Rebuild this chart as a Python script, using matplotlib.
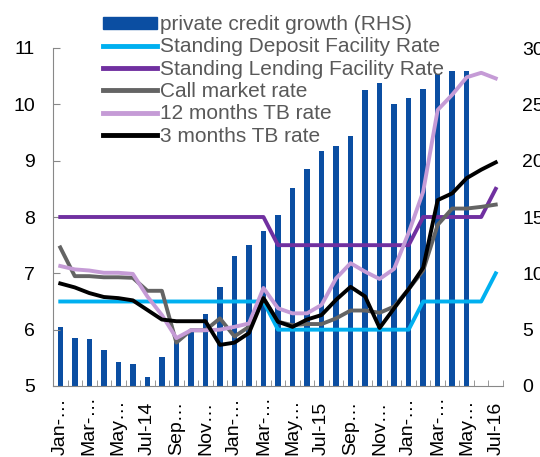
import matplotlib.pyplot as plt
import numpy as np
from matplotlib.patches import Patch
from matplotlib.lines import Line2D

plt.rcParams['font.family'] = ['Liberation Sans', 'DejaVu Sans']

# monthly data, Jan-14 .. Jul-16
months = ['Jan-14', 'Feb-14', 'Mar-14', 'Apr-14', 'May-14', 'Jun-14', 'Jul-14', 'Aug-14',
          'Sep-14', 'Oct-14', 'Nov-14', 'Dec-14', 'Jan-15', 'Feb-15', 'Mar-15', 'Apr-15',
          'May-15', 'Jun-15', 'Jul-15', 'Aug-15', 'Sep-15', 'Oct-15', 'Nov-15', 'Dec-15',
          'Jan-16', 'Feb-16', 'Mar-16', 'Apr-16', 'May-16', 'Jun-16', 'Jul-16']
xlabels = ['Jan-…', '', 'Mar-…', '', 'May…', '', 'Jul-14', '', 'Sep…', '', 'Nov…', '',
           'Jan-…', '', 'Mar-…', '', 'May…', '', 'Jul-15', '', 'Sep…', '', 'Nov…', '',
           'Jan-…', '', 'Mar-…', '', 'May…', '', 'Jul-16']

# private credit growth (RHS), no data for Jun/Jul-16
credit = [5.2, 4.3, 4.2, 3.2, 2.1, 1.95, 0.8, 2.55, 4.0, 4.8, 6.4, 8.8, 11.5, 12.5, 13.8,
          15.2, 17.6, 19.3, 20.9, 21.3, 22.2, 26.3, 26.9, 25.0, 25.6, 26.4, 27.7, 28.0, 28.0]
sdf = [6.5] * 15 + [6.0] * 10 + [6.5] * 5 + [7.0]
slf = [8.0] * 15 + [7.5] * 10 + [8.0] * 5 + [8.5]
call = [7.46, 6.95, 6.95, 6.93, 6.93, 6.92, 6.69, 6.69, 5.77, 5.99, 5.99, 6.2, 5.88, 6.05,
        6.56, 6.14, 6.08, 6.1, 6.1, 6.2, 6.34, 6.34, 6.3, 6.41, 6.72, 7.05, 7.86, 8.15,
        8.15, 8.18, 8.22]
tb12 = [7.13, 7.07, 7.05, 7.01, 7.01, 6.99, 6.59, 6.26, 5.85, 5.99, 5.99, 6.0, 6.05, 6.11,
        6.74, 6.38, 6.29, 6.29, 6.44, 6.91, 7.18, 7.03, 6.9, 7.08, 7.72, 8.45, 9.9, 10.17,
        10.48, 10.56, 10.46]
tb3 = [6.82, 6.75, 6.65, 6.58, 6.56, 6.52, 6.35, 6.18, 6.15, 6.15, 6.15, 5.73, 5.77, 5.94,
       6.56, 6.14, 6.05, 6.18, 6.26, 6.53, 6.76, 6.59, 6.03, 6.38, 6.72, 7.1, 8.3, 8.42,
       8.69, 8.84, 8.97]

c_bar = '#0B4EA2'
c_sdf = '#00B0F0'
c_slf = '#7030A0'
c_call = '#646464'
c_12 = '#C59BD6'
c_3 = '#000000'

x = np.arange(len(months))
fig = plt.figure(figsize=(5.4, 4.57), dpi=100)
ax = fig.add_axes([53/540, 71/457, 450/540, 338/457])
ax2 = ax.twinx()

ax2.bar(x[:len(credit)], credit, width=0.38, color=c_bar)
ax.set_zorder(ax2.get_zorder() + 1)
ax.patch.set_visible(False)

lw = 2.8
ax.plot(x, sdf, color=c_sdf, lw=lw)
ax.plot(x, slf, color=c_slf, lw=lw)
ax.plot(x, call, color=c_call, lw=lw)
ax.plot(x, tb12, color=c_12, lw=lw)
ax.plot(x, tb3, color=c_3, lw=lw)

ax.set_xlim(-0.5, len(months) - 0.5)
ax.set_ylim(5, 11)
ax.set_yticks(range(5, 12))
ax2.set_ylim(0, 30)
ax2.set_yticks(range(0, 31, 5))

ax.set_xticks(x)
ax.set_xticklabels(xlabels, rotation=90, va='bottom', ha='center')
ax.set_xticks(np.arange(-0.5, len(months)), minor=True)
ax.tick_params(axis='x', which='major', length=0, pad=50, labelsize=14)
ax.tick_params(axis='x', which='minor', direction='in', length=4, color='#888888')
ax.tick_params(axis='y', direction='in', length=5, color='#888888', pad=13, labelsize=14)
ax2.tick_params(axis='y', length=0, pad=14, labelsize=14)

for a in (ax, ax2):
    a.spines['top'].set_visible(False)
    a.spines['right'].set_visible(False)
    a.spines['left'].set_color('#888888')
    a.spines['bottom'].set_color('#888888')
ax2.spines['left'].set_visible(False)
ax2.spines['bottom'].set_visible(False)

handles = [Patch(color=c_bar),
           Line2D([], [], color=c_sdf, lw=3.5),
           Line2D([], [], color=c_slf, lw=3.5),
           Line2D([], [], color=c_call, lw=3.5),
           Line2D([], [], color=c_12, lw=3.5),
           Line2D([], [], color=c_3, lw=3.5)]
labels = ['private credit growth (RHS)', 'Standing Deposit Facility Rate',
          'Standing Lending Facility Rate', 'Call market rate', '12 months TB rate',
          '3 months TB rate']
leg = fig.legend(handles, labels, loc='upper left', bbox_to_anchor=(103/540, 1 - 15/457),
                 frameon=False, fontsize=15, borderpad=0, borderaxespad=0,
                 handlelength=2.6, handletextpad=0.15, handleheight=0.5, labelspacing=0.16)
for t in leg.get_texts():
    t.set_color('#595959')

fig.savefig('out.png', dpi=100)
